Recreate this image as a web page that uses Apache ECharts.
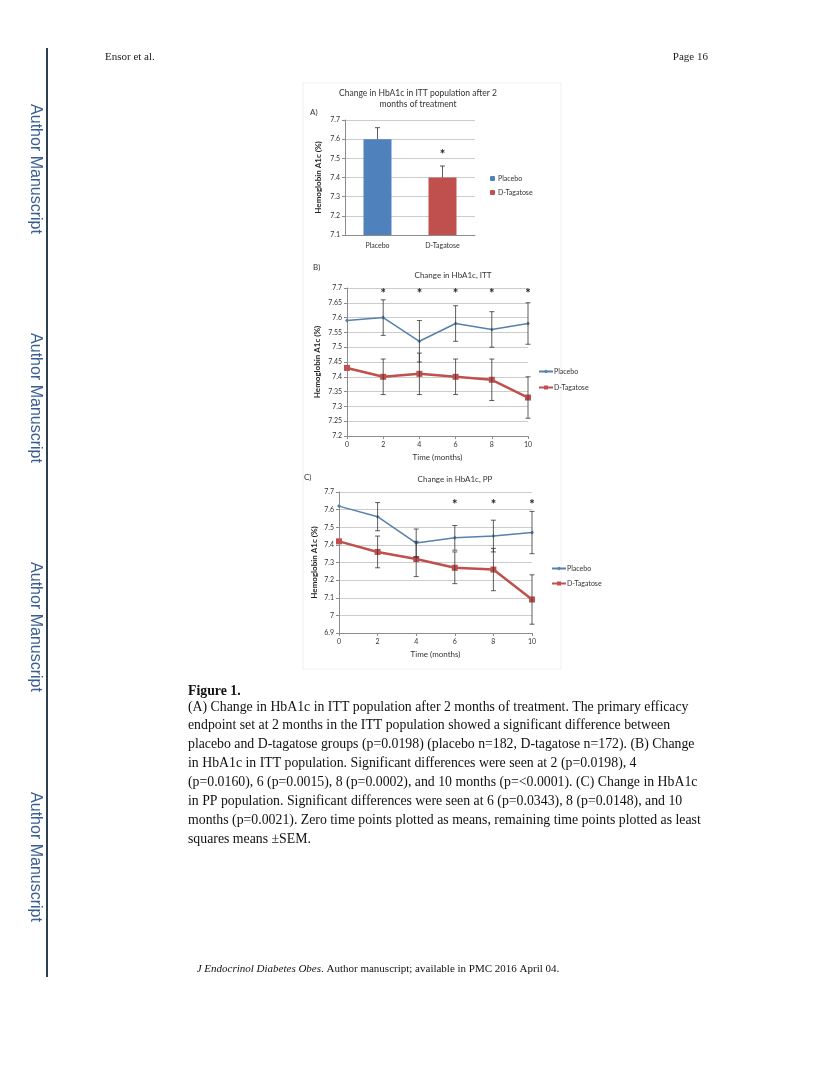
<!DOCTYPE html>
<html>
<head>
<meta charset="utf-8">
<script src="https://cdn.jsdelivr.net/npm/echarts@6/dist/echarts.min.js"></script>
<style>
html,body{margin:0;padding:0;background:#fff;}
#c{width:830px;height:1074px;}
</style>
</head>
<body>
<div id="c"></div>
<script>
// ---------- DATA ----------
const barCats = ['Placebo', 'D-Tagatose'];
const barVals = [7.6, 7.4];
const barSem = [0.06, 0.06];
const barStars = [null, 7.52];

const months = [0, 2, 4, 6, 8, 10];
const ittPlacebo = [7.59, 7.60, 7.52, 7.58, 7.56, 7.58];
const ittPlaceboSem = [null, 0.06, 0.07, 0.06, 0.06, 0.07];
const ittTag = [7.43, 7.40, 7.41, 7.40, 7.39, 7.33];
const ittTagSem = [null, 0.06, 0.07, 0.06, 0.07, 0.07];
const ittStars = [null, 7.68, 7.68, 7.68, 7.68, 7.68];

const ppPlacebo = [7.62, 7.56, 7.41, 7.44, 7.45, 7.47];
const ppPlaceboSem = [null, 0.08, 0.08, 0.07, 0.09, 0.12];
const ppTag = [7.42, 7.36, 7.32, 7.27, 7.26, 7.09];
const ppTagSem = [null, 0.09, 0.10, 0.09, 0.12, 0.14];
const ppStars = [null, null, null, 7.63, 7.63, 7.63];

const captionLines = [
  '(A) Change in HbA1c in ITT population after 2 months of treatment. The primary efficacy',
  'endpoint set at 2 months in the ITT population showed a significant difference between',
  'placebo and D-tagatose groups (p=0.0198) (placebo n=182, D-tagatose n=172). (B) Change',
  'in HbA1c in ITT population. Significant differences were seen at 2 (p=0.0198), 4',
  '(p=0.0160), 6 (p=0.0015), 8 (p=0.0002), and 10 months (p=<0.0001). (C) Change in HbA1c',
  'in PP population. Significant differences were seen at 6 (p=0.0343), 8 (p=0.0148), and 10',
  'months (p=0.0021). Zero time points plotted as means, remaining time points plotted as least',
  'squares means \u00b1SEM.'
];

// ---------- STYLE ----------
const F = 'Lato, "Open Sans", sans-serif';
const BLUE = '#5680ad';
const BAR_BLUE = '#4f81bd';
const RED = '#c0504d';
const GRID = '#cccccc';
const AX = '#8c8c8c';

const chart = echarts.init(document.getElementById('c'));

function errData(xs, vals, sems, lowerCap) {
  const out = [];
  xs.forEach((x, i) => {
    if (sems[i] == null) return;
    out.push([x, lowerCap ? vals[i] - sems[i] : vals[i], vals[i] + sems[i], lowerCap ? 1 : 0]);
  });
  return out;
}
function starData(xs, ys) {
  const out = [];
  xs.forEach((x, i) => { if (ys[i] != null) out.push([x, ys[i]]); });
  return out;
}
function errRender(params, api) {
  const x = api.value(0);
  const pLo = api.coord([x, api.value(1)]);
  const pHi = api.coord([x, api.value(2)]);
  const w = 2.5;
  const st = { stroke: '#333', lineWidth: 0.8 };
  const ch = [
    { type: 'line', shape: { x1: pHi[0], y1: pHi[1], x2: pLo[0], y2: pLo[1] }, style: st },
    { type: 'line', shape: { x1: pHi[0] - w, y1: pHi[1], x2: pHi[0] + w, y2: pHi[1] }, style: st }
  ];
  if (api.value(3) === 1) {
    ch.push({ type: 'line', shape: { x1: pLo[0] - w, y1: pLo[1], x2: pLo[0] + w, y2: pLo[1] }, style: st });
  }
  return { type: 'group', children: ch };
}
function starRender(params, api) {
  const p = api.coord([api.value(0), api.value(1)]);
  return { type: 'text', x: p[0], y: p[1], style: { text: '*', fill: '#222', font: 'bold 13px ' + F, textAlign: 'center', textVerticalAlign: 'middle' } };
}
const fmt = v => String(Math.round(v * 100) / 100);

const axisLabelStyle = { fontFamily: F, fontSize: 7, color: '#333' };
function yAx(gi, min, max, interval, gap) {
  return {
    gridIndex: gi, type: 'value', min: min, max: max, interval: interval,
    axisLine: { show: true, lineStyle: { color: AX, width: 1 } },
    axisTick: { show: true, length: 3, lineStyle: { color: AX } },
    splitLine: { show: true, lineStyle: { color: GRID, width: 1 } },
    axisLabel: Object.assign({ formatter: fmt, margin: 5 }, axisLabelStyle),
    name: 'Hemoglobin A1c (%)', nameLocation: 'middle', nameGap: gap, nameRotate: 90,
    nameTextStyle: { fontFamily: F, fontSize: 8, fontWeight: 'bold', color: '#222' }
  };
}
function xVal(gi) {
  return {
    gridIndex: gi, type: 'value', min: 0, max: 10, interval: 2,
    axisLine: { show: true, onZero: false, lineStyle: { color: AX } },
    axisTick: { show: true, length: 3, lineStyle: { color: AX } },
    splitLine: { show: false },
    axisLabel: Object.assign({ margin: 5 }, axisLabelStyle),
    name: 'Time (months)', nameLocation: 'middle', nameGap: 17,
    nameTextStyle: { fontFamily: F, fontSize: 8, color: '#333' }
  };
}

function lineSeries(name, gi, vals, color, isTag) {
  return {
    type: 'line', name: name, xAxisIndex: gi, yAxisIndex: gi,
    data: months.map((m, i) => [m, vals[i]]),
    symbol: isTag ? 'rect' : 'diamond', symbolSize: isTag ? 6 : 4,
    lineStyle: { color: color, width: isTag ? 2.5 : 1.5 },
    itemStyle: { color: color },
    z: isTag ? 3 : 2
  };
}

const graphics = [];
// left vertical rule and side labels
graphics.push({ type: 'line', shape: { x1: 47, y1: 48, x2: 47, y2: 977 }, style: { stroke: '#2f3f52', lineWidth: 2 } });
[169, 398, 627, 857].forEach(y => {
  graphics.push({ type: 'text', x: 35, y: y, rotation: -Math.PI / 2,
    style: { text: 'Author Manuscript', fill: '#3a5f8f', font: '16px "Liberation Sans", Arial, sans-serif', textAlign: 'center', textVerticalAlign: 'middle' } });
});
// header
graphics.push({ type: 'text', x: 105, y: 57, style: { text: 'Ensor et al.', fill: '#222', font: '11px "Liberation Serif", serif', textVerticalAlign: 'middle' } });
graphics.push({ type: 'text', x: 708, y: 57, style: { text: 'Page 16', fill: '#222', font: '11px "Liberation Serif", serif', textAlign: 'right', textVerticalAlign: 'middle' } });
// figure frame
graphics.push({ type: 'rect', shape: { x: 303, y: 83, width: 258, height: 586 }, style: { fill: 'none', stroke: '#f0f0f0', lineWidth: 1 }, z: -1 });
// panel titles
graphics.push({ type: 'text', x: 418, y: 93, style: { text: 'Change in HbA1c in ITT population after 2', fill: '#333', font: '8.5px ' + F, textAlign: 'center', textVerticalAlign: 'middle' } });
graphics.push({ type: 'text', x: 418, y: 104, style: { text: 'months of treatment', fill: '#333', font: '8.5px ' + F, textAlign: 'center', textVerticalAlign: 'middle' } });
graphics.push({ type: 'text', x: 310, y: 112, style: { text: 'A)', fill: '#333', font: '8px ' + F, textVerticalAlign: 'middle' } });
graphics.push({ type: 'text', x: 453, y: 275, style: { text: 'Change in HbA1c, ITT', fill: '#333', font: '8px ' + F, textAlign: 'center', textVerticalAlign: 'middle' } });
graphics.push({ type: 'text', x: 313, y: 267, style: { text: 'B)', fill: '#333', font: '8px ' + F, textVerticalAlign: 'middle' } });
graphics.push({ type: 'text', x: 455, y: 479, style: { text: 'Change in HbA1c, PP', fill: '#333', font: '8px ' + F, textAlign: 'center', textVerticalAlign: 'middle' } });
graphics.push({ type: 'text', x: 304, y: 477, style: { text: 'C)', fill: '#333', font: '8px ' + F, textVerticalAlign: 'middle' } });
// caption
graphics.push({ type: 'text', x: 188, y: 691, style: { text: 'Figure 1.', fill: '#111', font: 'bold 13.8px "Liberation Serif", serif', textVerticalAlign: 'middle' } });
captionLines.forEach((t, i) => {
  graphics.push({ type: 'text', x: 188, y: 707 + i * 18.86, style: { text: t, fill: '#111', font: '13.8px "Liberation Serif", serif', textVerticalAlign: 'middle' } });
});
// footer
graphics.push({ type: 'text', x: 378, y: 969, style: {
  text: '{i|J Endocrinol Diabetes Obes}{n|. Author manuscript; available in PMC 2016 April 04.}',
  textAlign: 'center', textVerticalAlign: 'middle',
  rich: { i: { font: 'italic 11px "Liberation Serif", serif', fill: '#111' }, n: { font: '11px "Liberation Serif", serif', fill: '#111' } } } });

const option = {
  animation: false,
  backgroundColor: '#fff',
  grid: [
    { left: 345, top: 120, width: 130, height: 115 },
    { left: 347, top: 288, width: 181, height: 148 },
    { left: 339, top: 492, width: 193, height: 141 }
  ],
  xAxis: [
    { gridIndex: 0, type: 'category', data: barCats,
      axisLine: { show: true, lineStyle: { color: AX } }, axisTick: { show: false },
      axisLabel: Object.assign({ margin: 7 }, axisLabelStyle) },
    xVal(1), xVal(2)
  ],
  yAxis: [ yAx(0, 7.1, 7.7, 0.1, 23), yAx(1, 7.2, 7.7, 0.05, 26), yAx(2, 6.9, 7.7, 0.1, 21) ],
  legend: [
    { orient: 'vertical', left: 485, top: 170, itemWidth: 5, itemHeight: 5, itemGap: 7,
      data: ['Placebo', 'D-Tagatose'], formatter: n => n.trim(),
      textStyle: { fontFamily: F, fontSize: 7, color: '#333', padding: [0, 0, 0, -2] } },
    { orient: 'vertical', left: 533, top: 363, itemWidth: 14, itemHeight: 5, itemGap: 9,
      data: ['Placebo ', 'D-Tagatose '], formatter: n => n.trim(),
      textStyle: { fontFamily: F, fontSize: 7, color: '#333', padding: [0, 0, 0, -4] } },
    { orient: 'vertical', left: 546, top: 560, itemWidth: 14, itemHeight: 5, itemGap: 8,
      data: ['Placebo  ', 'D-Tagatose  '], formatter: n => n.trim(),
      textStyle: { fontFamily: F, fontSize: 7, color: '#333', padding: [0, 0, 0, -4] } }
  ],
  graphic: { elements: graphics },
  series: [
    { type: 'bar', name: 'Placebo', xAxisIndex: 0, yAxisIndex: 0, barWidth: 28, barGap: '-100%',
      data: [barVals[0], '-'], itemStyle: { color: BAR_BLUE } },
    { type: 'bar', name: 'D-Tagatose', xAxisIndex: 0, yAxisIndex: 0, barWidth: 28, barGap: '-100%',
      data: ['-', barVals[1]], itemStyle: { color: RED } },
    { type: 'custom', name: 'errA', xAxisIndex: 0, yAxisIndex: 0, renderItem: errRender, z: 5,
      data: errData([0, 1], barVals, barSem, false) },
    { type: 'custom', name: 'starA', xAxisIndex: 0, yAxisIndex: 0, renderItem: starRender, z: 5,
      data: starData([0, 1], barStars) },

    lineSeries('Placebo ', 1, ittPlacebo, BLUE, false),
    lineSeries('D-Tagatose ', 1, ittTag, RED, true),
    { type: 'custom', name: 'errB1', xAxisIndex: 1, yAxisIndex: 1, renderItem: errRender, z: 5,
      data: errData(months, ittPlacebo, ittPlaceboSem, true) },
    { type: 'custom', name: 'errB2', xAxisIndex: 1, yAxisIndex: 1, renderItem: errRender, z: 5,
      data: errData(months, ittTag, ittTagSem, true) },
    { type: 'custom', name: 'starB', xAxisIndex: 1, yAxisIndex: 1, renderItem: starRender, z: 5,
      data: starData(months, ittStars) },

    lineSeries('Placebo  ', 2, ppPlacebo, BLUE, false),
    lineSeries('D-Tagatose  ', 2, ppTag, RED, true),
    { type: 'custom', name: 'errC1', xAxisIndex: 2, yAxisIndex: 2, renderItem: errRender, z: 5,
      data: errData(months, ppPlacebo, ppPlaceboSem, true) },
    { type: 'custom', name: 'errC2', xAxisIndex: 2, yAxisIndex: 2, renderItem: errRender, z: 5,
      data: errData(months, ppTag, ppTagSem, true) },
    { type: 'custom', name: 'starC', xAxisIndex: 2, yAxisIndex: 2, renderItem: starRender, z: 5,
      data: starData(months, ppStars) }
  ]
};
chart.setOption(option);
</script>
</body>
</html>
